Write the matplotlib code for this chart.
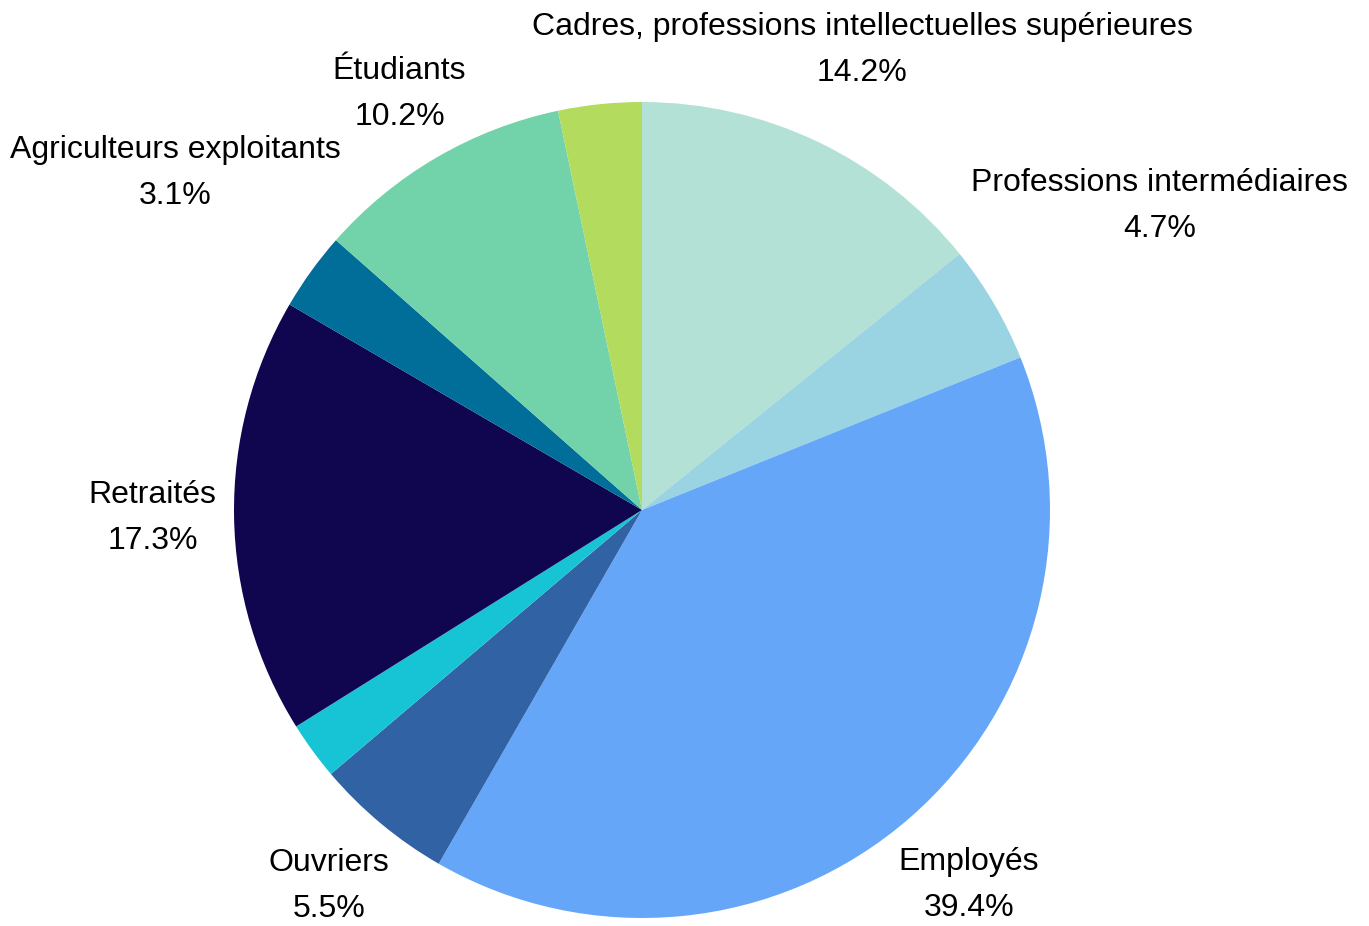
import numpy as np
import matplotlib.pyplot as plt

plt.rcParams['font.family'] = ['Liberation Sans', 'DejaVu Sans']

# slices, clockwise from 12 o'clock
labels = [
    "Cadres, professions intellectuelles supérieures",
    "Professions intermédiaires",
    "Employés",
    "Ouvriers",
    "",
    "Retraités",
    "Agriculteurs exploitants",
    "Étudiants",
    "",
]
shares = [14.2, 4.7, 39.4, 5.5, 2.3, 17.3, 3.1, 10.2, 3.3]
colors = ["#b3e1d5", "#9ad3e1", "#66a6f8", "#3162a3", "#17c4d5",
          "#10064f", "#006e99", "#72d3aa", "#b3db5e"]

# label distance per slice (in radii)
label_r = [1.25, 1.47, 1.22, 1.2, 1.2, 1.2, 1.41, 1.18, 1.2]

fig = plt.figure(figsize=(13.69, 9.26), dpi=100)
ax = fig.add_axes([0, 0, 1, 1])

wedges, _ = ax.pie(shares, colors=colors, startangle=90, counterclock=False,
                   radius=1, wedgeprops=dict(linewidth=0))

for w, name, val, r in zip(wedges, labels, shares, label_r):
    if not name:
        continue
    mid = np.deg2rad((w.theta1 + w.theta2) / 2)
    x, y = r * np.cos(mid), r * np.sin(mid)
    ax.text(x, y, f"{name}\n{val:.1f}%", ha='center', va='center',
            fontsize=23, linespacing=1.7, color='black')

# radius ~408 px, centre at (642, 510) from top-left
ax.set_xlim(-642 / 408, (1369 - 642) / 408)
ax.set_ylim(-416 / 408, 510 / 408)
ax.set_aspect('auto')
ax.axis('off')

fig.savefig('out.png', dpi=100)
